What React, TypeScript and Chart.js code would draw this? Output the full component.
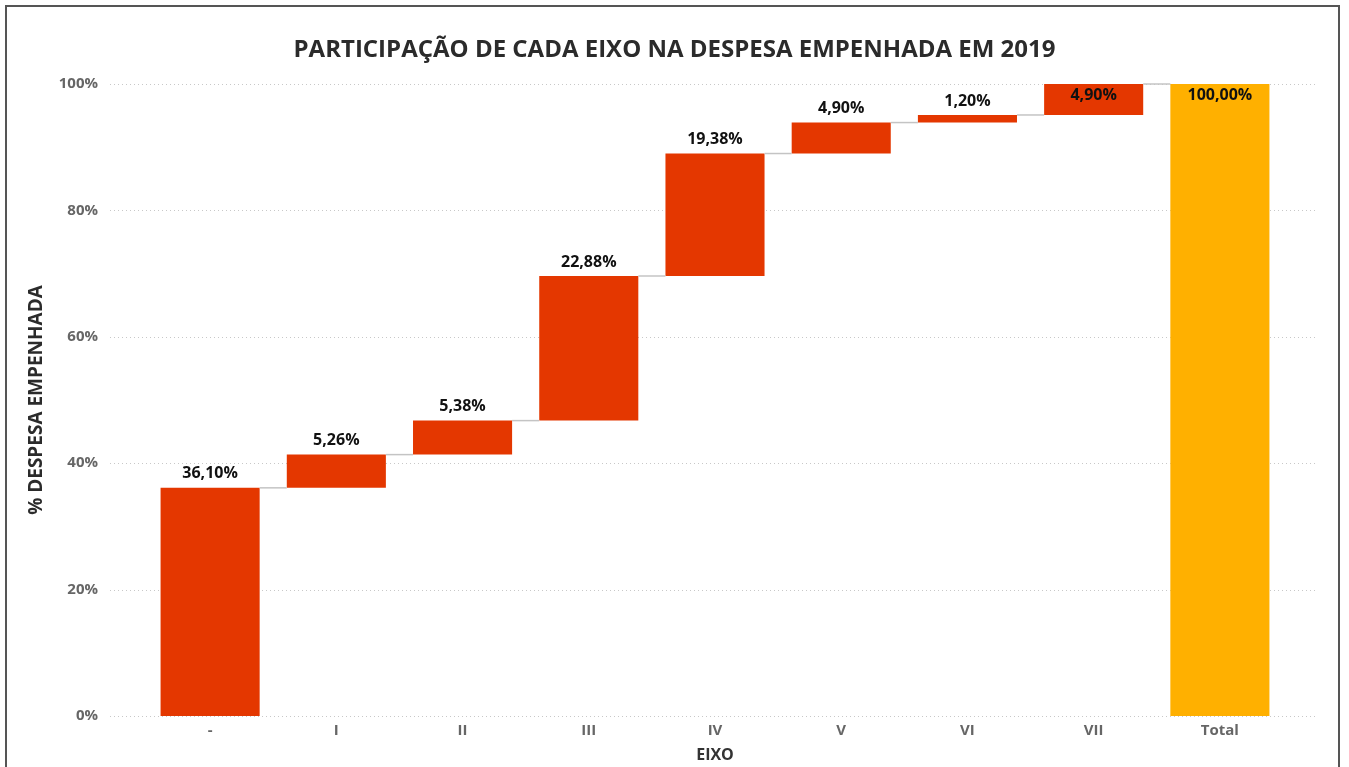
import React, { useEffect, useRef } from "react";
import { Chart, registerables } from "chart.js";

Chart.register(...registerables);

const categories = ["-", "I", "II", "III", "IV", "V", "VI", "VII", "Total"];
const increments = [36.1, 5.26, 5.38, 22.88, 19.38, 4.9, 1.2, 4.9];
const totalValue = 100;
const yTicks = [0, 20, 40, 60, 80, 100];

const RED = "#E43700";
const ORANGE = "#FFB000";
const FONT = "'Open Sans', 'DejaVu Sans', sans-serif";

function buildRanges() {
  const ranges: [number, number][] = [];
  let acc = 0;
  for (const v of increments) {
    ranges.push([acc, acc + v]);
    acc += v;
  }
  ranges.push([0, totalValue]);
  return ranges;
}

const fmt = (v: number) => v.toFixed(2).replace(".", ",") + "%";

export default function App() {
  const ref = useRef<HTMLCanvasElement | null>(null);

  useEffect(() => {
    document.body.style.margin = "0";
    const ranges = buildRanges();
    const values = [...increments, totalValue];
    const colors = categories.map((_, i) => (i === categories.length - 1 ? ORANGE : RED));

    const gridPlugin = {
      id: "dottedGrid",
      beforeDatasetsDraw(chart: any) {
        const { ctx, chartArea } = chart;
        const y = chart.scales.y;
        ctx.save();
        ctx.strokeStyle = "#c8c8c8";
        ctx.lineWidth = 1;
        ctx.setLineDash([1, 3]);
        for (const t of yTicks) {
          const py = Math.round(y.getPixelForValue(t)) + 0.5;
          ctx.beginPath();
          ctx.moveTo(chartArea.left - 37, py);
          ctx.lineTo(chartArea.right + 35, py);
          ctx.stroke();
        }
        ctx.restore();
      },
    };

    const connectorPlugin = {
      id: "connectors",
      afterDatasetsDraw(chart: any) {
        const { ctx } = chart;
        const meta = chart.getDatasetMeta(0);
        const y = chart.scales.y;
        ctx.save();
        ctx.strokeStyle = "#c4c4c4";
        ctx.lineWidth = 1.5;
        for (let i = 0; i < meta.data.length - 1; i++) {
          const a = meta.data[i];
          const b = meta.data[i + 1];
          const level = ranges[i][1];
          const py = y.getPixelForValue(level);
          ctx.beginPath();
          ctx.moveTo(a.x + a.width / 2, py);
          ctx.lineTo(b.x - b.width / 2, py);
          ctx.stroke();
        }
        ctx.fillStyle = "#111";
        ctx.font = `bold 16px ${FONT}`;
        ctx.textAlign = "center";
        ctx.textBaseline = "middle";
        const top = chart.chartArea.top;
        meta.data.forEach((bar: any, i: number) => {
          const barTop = Math.min(bar.y, bar.base);
          const text = fmt(values[i]);
          if (barTop - top < 20) {
            ctx.fillText(text, bar.x, barTop + 11);
          } else {
            ctx.fillText(text, bar.x, barTop - 14);
          }
        });
        ctx.restore();
      },
    };

    const chart = new Chart(ref.current as HTMLCanvasElement, {
      type: "bar",
      data: {
        labels: categories,
        datasets: [
          {
            data: ranges as any,
            backgroundColor: colors,
            borderWidth: 0,
            categoryPercentage: 1,
            barPercentage: 0.785,
          },
        ],
      },
      options: {
        animation: false,
        responsive: false,
        layout: { padding: { left: 0, right: 0, top: 0, bottom: 0 } },
        plugins: {
          legend: { display: false },
          tooltip: { enabled: false },
          title: {
            display: true,
            text: "PARTICIPAÇÃO DE CADA EIXO NA DESPESA EMPENHADA EM 2019",
            color: "#2b2b2b",
            font: { family: FONT, size: 24, weight: "bold" },
            padding: { top: 36, bottom: 19.2 },
          },
        },
        scales: {
          x: {
            grid: { display: false, drawTicks: false },
            border: { display: false },
            ticks: {
              color: "#666",
              font: { family: FONT, size: 15, weight: "bold" },
              padding: 6,
            },
            title: {
              display: true,
              text: "EIXO",
              color: "#333",
              font: { family: FONT, size: 16, weight: "bold" },
              padding: { top: 0, bottom: 2.4 },
            },
            afterFit(scale: any) {
              scale.height = 51;
            },
          },
          y: {
            min: 0,
            max: 100,
            afterBuildTicks(scale: any) {
              scale.ticks = yTicks.map((v) => ({ value: v }));
            },
            grid: { display: false, drawTicks: false },
            border: { display: false },
            ticks: {
              color: "#666",
              font: { family: FONT, size: 15, weight: "bold" },
              padding: 49,
              callback: (v: any) => v + "%",
            },
            title: {
              display: true,
              text: "% DESPESA EMPENHADA",
              color: "#2b2b2b",
              font: { family: FONT, size: 19, weight: "bold" },
              padding: { top: 25.6, bottom: 0 },
            },
            afterFit(scale: any) {
              scale.width = 147;
              scale.paddingTop = 8;
              scale.paddingBottom = 8;
            },
          },
          yRight: {
            position: "right",
            display: true,
            min: 0,
            max: 100,
            grid: { display: false, drawTicks: false },
            border: { display: false },
            ticks: { display: false },
            afterFit(scale: any) {
              scale.width = 66;
              scale.paddingTop = 0;
              scale.paddingBottom = 0;
            },
          },
        },
      },
      plugins: [gridPlugin, connectorPlugin],
    });
    return () => chart.destroy();
  }, []);

  return (
    <div style={{ position: "fixed", left: 0, top: 0, width: 1349, height: 767, overflow: "hidden", background: "#fff" }}>
      <div
        style={{
          position: "absolute",
          left: 5,
          top: 5,
          width: 1335,
          height: 800,
          border: "2px solid #555",
          boxSizing: "border-box",
        }}
      />
      <canvas ref={ref} width={1349} height={767} style={{ position: "absolute", left: 0, top: 0 }} />
    </div>
  );
}
